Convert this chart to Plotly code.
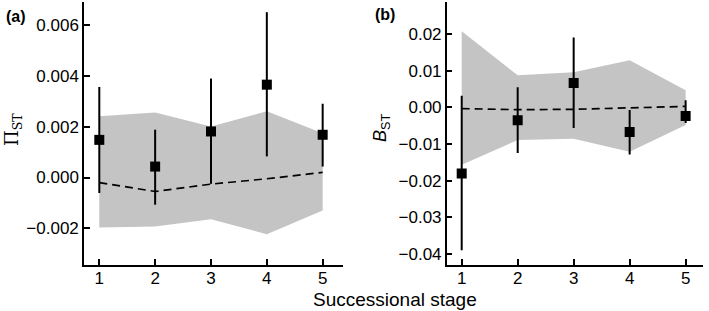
import plotly.graph_objects as go

stages = [1, 2, 3, 4, 5]

# Panel (a): Pi_ST
pi_obs = [0.00148, 0.00043, 0.00181, 0.00365, 0.00168]
pi_hi = [0.00356, 0.00188, 0.00389, 0.00650, 0.00290]
pi_lo = [-0.00061, -0.00107, -0.00025, 0.00083, 0.00043]
pi_band_hi = [0.00241, 0.00256, 0.00201, 0.00260, 0.00174]
pi_band_lo = [-0.00197, -0.00193, -0.00164, -0.00223, -0.00130]
pi_null = [-0.00020, -0.00055, -0.00026, -0.00005, 0.00020]

# Panel (b): B_ST
b_obs = [-0.0180, -0.0035, 0.0067, -0.0067, -0.0023]
b_hi = [0.0032, 0.0055, 0.0191, -0.0007, 0.0020]
b_lo = [-0.0390, -0.0124, -0.0056, -0.0128, -0.0042]
b_band_hi = [0.0208, 0.0088, 0.0096, 0.0129, 0.0047]
b_band_lo = [-0.0156, -0.0089, -0.0085, -0.0121, -0.0048]
b_null = [-0.0003, -0.0006, -0.0005, 0.0000, 0.0003]

pi_ticks = [-0.002, 0.0, 0.002, 0.004, 0.006]
pi_ticklabels = ["\u22120.002", "0.000", "0.002", "0.004", "0.006"]
b_ticks = [-0.04, -0.03, -0.02, -0.01, 0.0, 0.01, 0.02]
b_ticklabels = ["\u22120.04", "\u22120.03", "\u22120.02", "\u22120.01", "0.00", "0.01", "0.02"]

FONT = "Liberation Sans, Arial, Helvetica, sans-serif"
GREY = "#c4c4c4"

fig = go.Figure()

def add_panel(xa, ya, obs, hi, lo, bhi, blo, null):
    fig.add_trace(go.Scatter(x=stages, y=bhi, mode="lines", line=dict(width=0, color=GREY),
                             xaxis=xa, yaxis=ya, showlegend=False, hoverinfo="skip"))
    fig.add_trace(go.Scatter(x=stages, y=blo, mode="lines", line=dict(width=0, color=GREY),
                             fill="tonexty", fillcolor=GREY,
                             xaxis=xa, yaxis=ya, showlegend=False, hoverinfo="skip"))
    fig.add_trace(go.Scatter(x=stages, y=null, mode="lines",
                             line=dict(color="black", width=1.7, dash="8px,5px"),
                             xaxis=xa, yaxis=ya, showlegend=False))
    fig.add_trace(go.Scatter(
        x=stages, y=obs, mode="markers",
        marker=dict(symbol="square", size=10, color="black"),
        error_y=dict(type="data", symmetric=False,
                     array=[h - o for h, o in zip(hi, obs)],
                     arrayminus=[o - l for o, l in zip(obs, lo)],
                     width=0, thickness=2, color="black"),
        xaxis=xa, yaxis=ya, showlegend=False))

add_panel("x", "y", pi_obs, pi_hi, pi_lo, pi_band_hi, pi_band_lo, pi_null)
add_panel("x2", "y2", b_obs, b_hi, b_lo, b_band_hi, b_band_lo, b_null)

W, H = 709, 311
ydom = [1 - 265 / H, 1 - 2 / H]

axis_common = dict(showline=True, linecolor="black", linewidth=1.5, mirror=False,
                   ticks="inside", ticklen=6, tickwidth=1.5, tickcolor="black",
                   showgrid=False, zeroline=False,
                   tickfont=dict(family=FONT, size=17, color="black"))

def ann(text, x, y, size, family=FONT, angle=0):
    return dict(text=text, x=x / W, y=1 - y / H, xref="paper", yref="paper",
                xanchor="center", yanchor="middle", showarrow=False, textangle=angle,
                font=dict(family=family, size=size, color="black"))

fig.update_layout(
    width=W, height=H,
    margin=dict(l=0, r=0, t=0, b=0),
    plot_bgcolor="white", paper_bgcolor="white",
    xaxis=dict(domain=[84 / W, 343 / W], range=[0.726, 5.364], anchor="y",
               tickvals=stages, ticktext=[str(s) for s in stages],
               ticklabelstandoff=-3, **axis_common),
    yaxis=dict(domain=ydom, range=[-0.00344, 0.0069], anchor="x",
               tickvals=pi_ticks, ticktext=pi_ticklabels, **axis_common),
    xaxis2=dict(domain=[446.7 / W, 703 / W], range=[0.732, 5.31], anchor="y2",
                tickvals=stages, ticktext=[str(s) for s in stages],
                ticklabelstandoff=-3, **axis_common),
    yaxis2=dict(domain=ydom, range=[-0.043, 0.0288], anchor="x2",
                tickvals=b_ticks, ticktext=b_ticklabels, **axis_common),
    annotations=[
        ann("<b>(a)</b>", 16, 16, 16),
        ann("<b>(b)</b>", 385, 15, 16),
        ann("\u03a0<sub>ST</sub>", 13, 130, 18, family="DejaVu Serif, serif", angle=-90),
        ann("<i>B</i><sub>ST</sub>", 381, 128, 18, angle=-90),
        ann("Successional stage", 395, 299, 19),
    ],
)

fig.write_html("out.html", config={"displayModeBar": False},
               post_script="document.body.style.margin='0';document.body.style.padding='0';")
